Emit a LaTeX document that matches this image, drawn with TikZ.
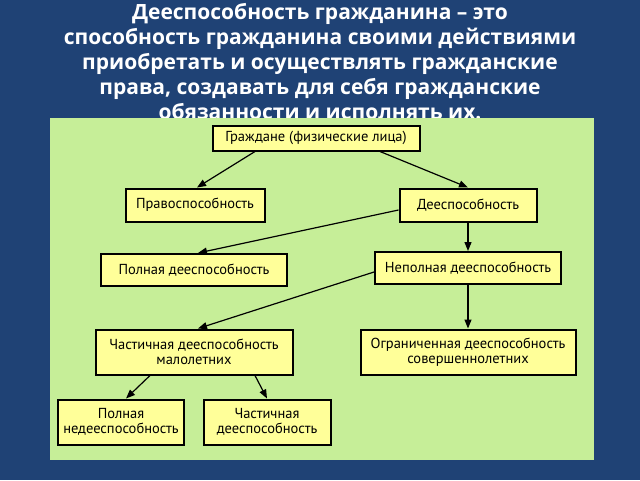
\documentclass[tikz,border=0pt]{standalone}
\usepackage{fontspec}
\setmainfont{PT Sans}
\newfontfamily\titlefont{Open Sans}
\usetikzlibrary{arrows.meta}
\definecolor{bg}{HTML}{1F4275}
\definecolor{panel}{HTML}{C6EE98}
\definecolor{boxfill}{HTML}{FFFF99}
\begin{document}
\begin{tikzpicture}[x=1pt,y=-1pt,
  box/.style={draw=black,line width=2pt,fill=boxfill,inner sep=0pt,font=\fontsize{14.5}{15.5}\selectfont,align=center},
  arr/.style={-{Triangle[length=9pt,width=7pt]},line width=1.2pt}]
\fill[bg] (0,0) rectangle (640,480);
\useasboundingbox (0,0) rectangle (640,480);
\node[text=white,font=\titlefont\bfseries\fontsize{21}{25}\selectfont,align=center] (title) at (320,62)
 {Дееспособность гражданина – это\\способность гражданина своими действиями\\приобретать и осуществлять гражданские\\права, создавать для себя гражданские\\обязанности и исполнять их.};
\fill[panel] (50,118) rectangle (594,460);
\node[box,minimum width=207pt,minimum height=25pt] (g) at (316,138) {Граждане (физические лица)};
\node[box,minimum width=139pt,minimum height=33pt] (p) at (195,205) {Правоспособность};
\node[box,minimum width=137pt,minimum height=33pt] (d) at (468,205) {Дееспособность};
\node[box,minimum width=186pt,minimum height=32pt] (pd) at (194,270) {Полная дееспособность};
\node[box,minimum width=186pt,minimum height=32pt] (nd) at (468,268) {Неполная дееспособность};
\node[box,minimum width=197pt,minimum height=45pt] (cm) at (194,352) {Частичная дееспособность\\малолетних};
\node[box,minimum width=215pt,minimum height=45pt] (og) at (468,352) {Ограниченная дееспособность\\совершеннолетних};
\node[box,minimum width=126pt,minimum height=45pt] (pn) at (121,422) {Полная\\недееспособность};
\node[box,minimum width=127pt,minimum height=45pt] (cd) at (267,422) {Частичная\\дееспособность};
\draw[arr] (g.south -| 255,0) -- (p.north -| 197,0);
\draw[arr] (g.south -| 380,0) -- (d.north);
\draw[arr] (d.west |- 0,210) -- (pd.north -| 198,0);
\draw[arr] (d.south) -- (nd.north);
\draw[arr] (nd.west |- 0,272) -- (cm.north -| 198,0);
\draw[arr] (nd.south) -- (og.north);
\draw[arr] (cm.south -| 150,0) -- (pn.north -| 126,0);
\draw[arr] (cm.south -| 255,0) -- (cd.north);
\end{tikzpicture}
\end{document}
